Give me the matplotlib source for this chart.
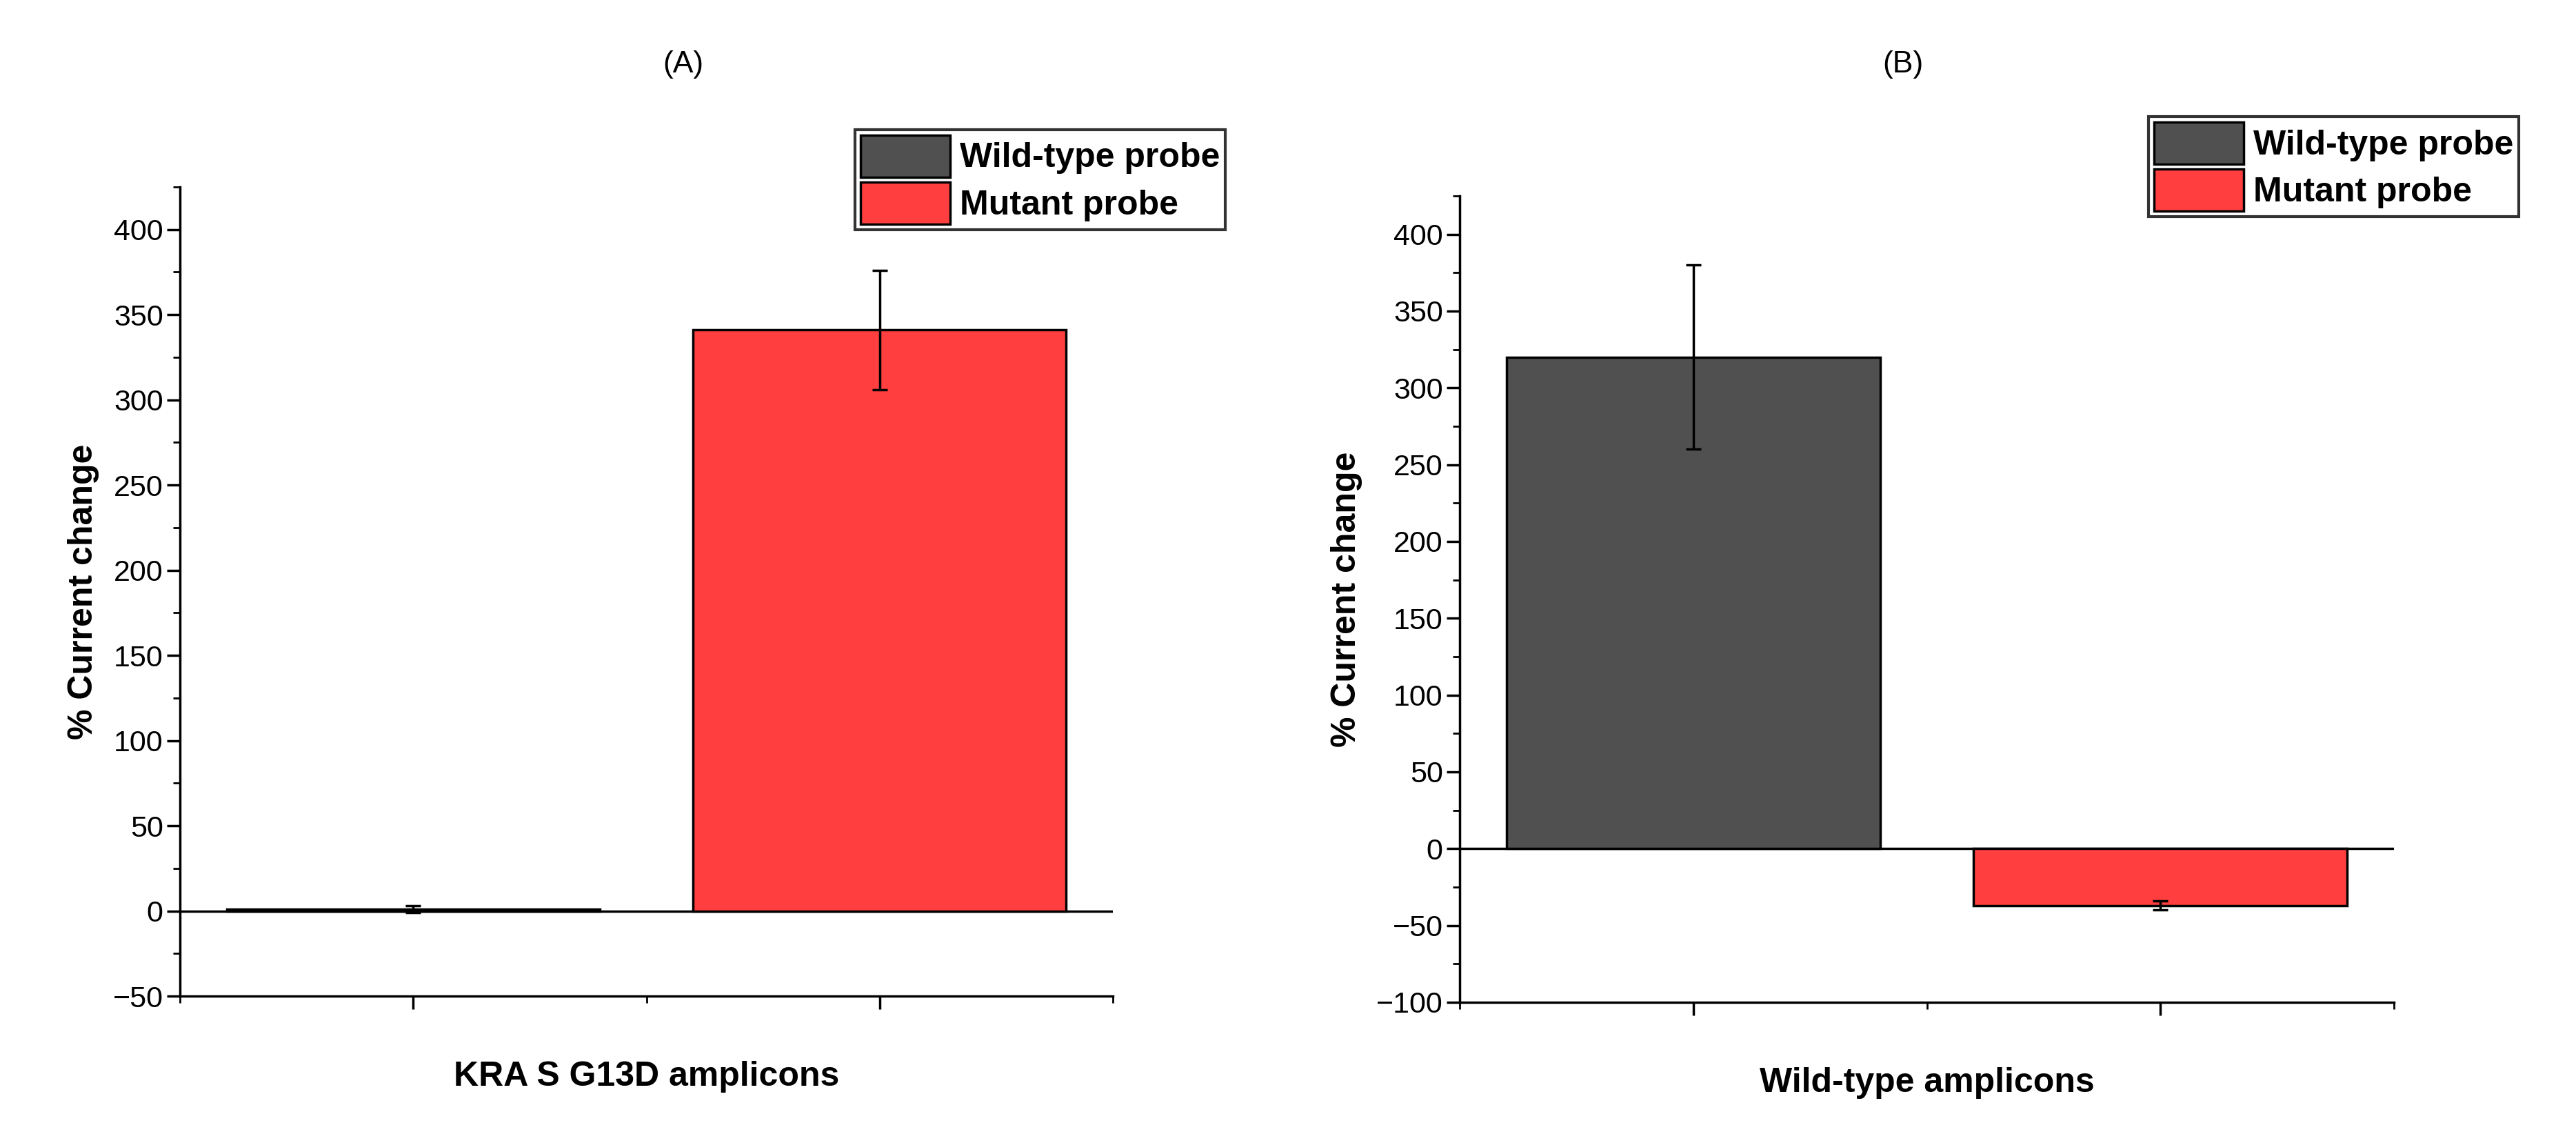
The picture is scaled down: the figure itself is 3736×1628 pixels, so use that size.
import matplotlib
matplotlib.use('Agg')
import matplotlib.pyplot as plt

plt.rcParams['font.family'] = ['Liberation Sans', 'DejaVu Sans']

probes = ['Wild-type probe', 'Mutant probe']
colors = ['#505050', '#ff3f3f']

# panel A: KRAS G13D amplicons
a_vals = [1.0, 341.0]
a_errs = [2.0, 35.0]
# panel B: wild-type amplicons
b_vals = [320.0, -37.0]
b_errs = [60.0, 3.0]

W, H = 3736, 1628
fig = plt.figure(figsize=(W / 100, H / 100), dpi=100, facecolor='white')

def panel(rect, vals, errs, ylim, yticks, title, xlabel, leg_rect, title_x):
    ax = fig.add_axes([rect[0] / W, 1 - rect[3] / H, (rect[2] - rect[0]) / W, (rect[3] - rect[1]) / H])
    ax.bar([0, 1], vals, width=0.8, color=colors, edgecolor='black', linewidth=2.5,
           yerr=errs, capsize=8, error_kw=dict(elinewidth=2.5, capthick=2.5, ecolor='black'),
           label=None)
    ax.axhline(0, color='black', lw=2.5, zorder=0.5)
    ax.set_xlim(-0.5, 1.5)
    ax.set_ylim(*ylim)
    ax.set_yticks(yticks)
    ax.set_yticks([y + 25 for y in yticks[:-1]] + [yticks[-1] + 25], minor=True)
    ax.set_xticks([0, 1])
    ax.set_xticks([-0.5, 0.5, 1.5], minor=True)
    ax.set_xticklabels([])
    ax.tick_params(axis='both', which='major', length=14, width=2.5, labelsize=31, direction='out')
    ax.tick_params(axis='both', which='minor', length=7, width=2, direction='out')
    for s in ['top', 'right']:
        ax.spines[s].set_visible(False)
    for s in ['left', 'bottom']:
        ax.spines[s].set_linewidth(2.5)
    ax.set_ylabel('% Current change', fontsize=36, fontweight='bold', labelpad=14)
    ax.set_xlabel(xlabel, fontsize=36, fontweight='bold', labelpad=50)
    fig.text(title_x / W, 1 - 94 / H, title, fontsize=32, ha='center', va='center')
    handles = [plt.Rectangle((0, 0), 1, 1, facecolor=c, edgecolor='black', lw=2.5) for c in colors]
    leg = fig.legend(handles, probes, loc='upper left',
                     bbox_to_anchor=(leg_rect[0] / W, 1 - leg_rect[1] / H),
                     prop=dict(size=36, weight='bold'), frameon=True, fancybox=False,
                     handlelength=2.6, handleheight=1.5, handletextpad=0.3,
                     borderpad=0.15, labelspacing=0.15, borderaxespad=0)
    leg.get_frame().set_edgecolor('black')
    leg.get_frame().set_linewidth(3)
    return ax

panel((261, 271, 1614, 1444), a_vals, a_errs, (-50, 425), list(range(-50, 401, 50)),
      '(A)', 'KRA S G13D amplicons', (1240, 188), 991)
panel((2117, 284, 3472, 1453), b_vals, b_errs, (-100, 425), list(range(-100, 401, 50)),
      '(B)', 'Wild-type amplicons', (3116, 169), 2760)

fig.savefig('out.png', dpi=100, facecolor='white')
